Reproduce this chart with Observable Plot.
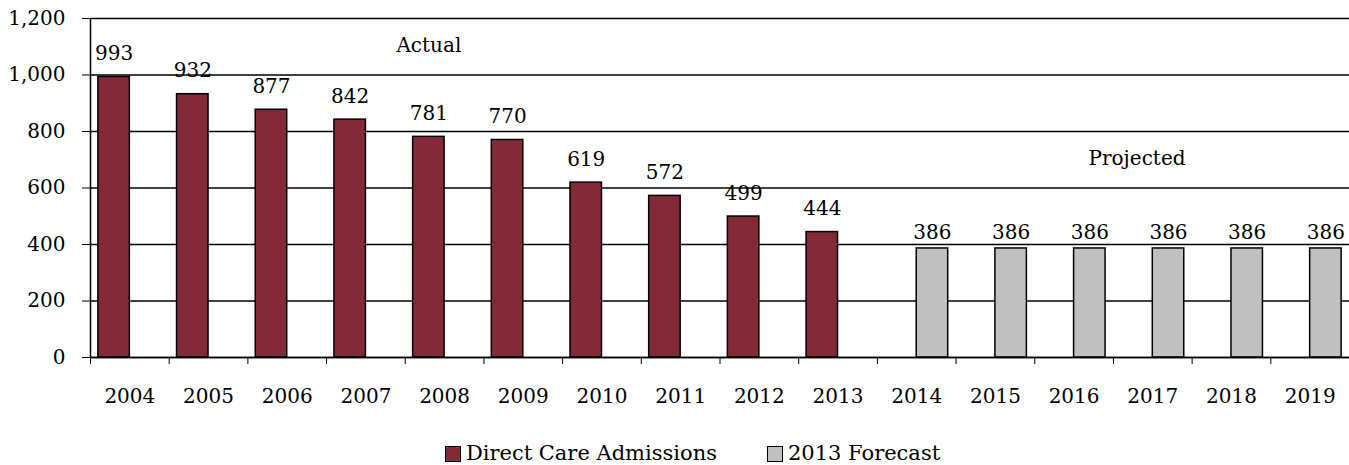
<!DOCTYPE html>
<html>
<head>
<meta charset="utf-8">
<script src="https://cdn.jsdelivr.net/npm/d3@7"></script>
<script src="https://cdn.jsdelivr.net/npm/@observablehq/plot@0.6"></script>
<style>
  body { margin: 0; background: #fff; font-family: "DejaVu Serif", serif; }
  #legend { display: flex; justify-content: center; gap: 50px; margin-top: 22px; padding-left: 36px; font-size: 21px; line-height: 23px; color: #000; }
  #legend .item { display: flex; align-items: center; gap: 5px; }
  #legend .sw { width: 14px; height: 14px; border: 1.5px solid #000; display: inline-block; }
</style>
</head>
<body>
<div id="chart"></div>
<div id="legend"></div>
<script>
const years = ["2004","2005","2006","2007","2008","2009","2010","2011","2012","2013","2014","2015","2016","2017","2018","2019"];
const actualValues = [993, 932, 877, 842, 781, 770, 619, 572, 499, 444, null, null, null, null, null, null];
const forecastValues = [null, null, null, null, null, null, null, null, null, null, 386, 386, 386, 386, 386, 386];
const seriesNames = ["Direct Care Admissions", "2013 Forecast"];
const seriesColors = ["#832A38", "#C0C0C0"];
const yTicks = [0, 200, 400, 600, 800, 1000, 1200];
const annotations = [
  {label: "Actual", pos: 4.3, value: 1104},
  {label: "Projected", pos: 13.3, value: 704}
];

const rows = years.map((year, i) => ({i, year, actual: actualValues[i], forecast: forecastValues[i]}));
const actualRows = rows.filter(d => d.actual != null);
const forecastRows = rows.filter(d => d.forecast != null);
const bounds = d3.range(0, years.length + 1);

const chart = Plot.plot({
  width: 1349,
  height: 420,
  marginLeft: 90,
  marginRight: 0,
  marginTop: 18,
  marginBottom: 63,
  style: {fontFamily: "DejaVu Serif, serif", fontSize: "20px", color: "#000", background: "#fff"},
  x: {domain: [0, years.length], axis: null},
  y: {domain: [0, 1200], axis: null},
  marks: [
    Plot.gridY(yTicks, {stroke: "#000", strokeOpacity: 1, strokeWidth: 1.5}),
    Plot.rectY(actualRows, {x1: d => d.i + 0.1, x2: d => d.i + 0.5, y: "actual", fill: seriesColors[0], stroke: "#000", strokeWidth: 1.5}),
    Plot.rectY(forecastRows, {x1: d => d.i + 0.5, x2: d => d.i + 0.9, y: "forecast", fill: seriesColors[1], stroke: "#000", strokeWidth: 1.5}),
    Plot.text(actualRows, {x: d => d.i + 0.3, y: "actual", text: d => String(d.actual), lineAnchor: "bottom", dy: -17, fontSize: 20}),
    Plot.text(forecastRows, {x: d => d.i + 0.7, y: "forecast", text: d => String(d.forecast), lineAnchor: "bottom", dy: -9, fontSize: 20}),
    Plot.text(annotations, {x: "pos", y: "value", text: "label", fontSize: 20}),
    Plot.ruleX([0], {y1: 0, y2: 1200, stroke: "#000", strokeWidth: 1.5}),
    Plot.ruleY([0], {stroke: "#000", strokeWidth: 1.5}),
    Plot.axisY(yTicks, {tickSize: 8, tickPadding: 17, tickFormat: d3.format(","), stroke: "#000", fontSize: 20, label: null}),
    Plot.axisX(bounds, {tickSize: 7, tickFormat: () => "", stroke: "#000", label: null}),
    Plot.axisX(years.map((y, i) => i + 0.5), {tickSize: 0, tickPadding: 31, tickFormat: v => years[Math.floor(v)], fontSize: 20, label: null})
  ]
});
document.getElementById("chart").appendChild(chart);

const legend = document.getElementById("legend");
seriesNames.forEach((name, k) => {
  const item = document.createElement("span");
  item.className = "item";
  const sw = document.createElement("span");
  sw.className = "sw";
  sw.style.background = seriesColors[k];
  item.appendChild(sw);
  item.appendChild(document.createTextNode(name));
  legend.appendChild(item);
});
</script>
</body>
</html>
